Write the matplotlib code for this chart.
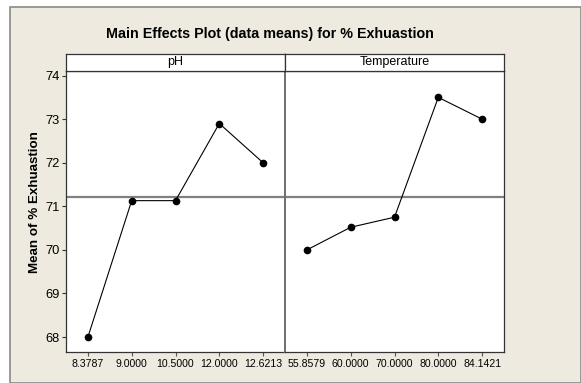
import matplotlib
matplotlib.use("Agg")
import matplotlib.pyplot as plt
from matplotlib.patches import Rectangle

plt.rcParams["font.family"] = ["Liberation Sans", "DejaVu Sans"]

ph_levels = ["8.3787", "9.0000", "10.5000", "12.0000", "12.6213"]
ph_means = [68.0, 71.13, 71.13, 72.9, 72.0]
temp_levels = ["55.8579", "60.0000", "70.0000", "80.0000", "84.1421"]
temp_means = [70.0, 70.52, 70.75, 73.5, 73.0]
grand_mean = 71.21
panel_names = ["pH", "Temperature"]
yticks = [68, 69, 70, 71, 72, 73, 74]

W, H = 581, 383
fig = plt.figure(figsize=(W / 100, H / 100), dpi=100)
fig.patch.set_facecolor("white")

# beige background panel with gray border
bg = Rectangle((10 / W, 0), 1 - 10 / W, 1 - 7 / H, transform=fig.transFigure,
               facecolor="#EEEAE0", edgecolor="#8a8a8a", linewidth=1.2, zorder=-10)
fig.patches.append(bg)

def fx(px):
    return px / W

def fy(py):
    return 1 - py / H

left, mid, right = 66, 285, 504
top, bottom, strip_top = 71, 352, 54

ax1 = fig.add_axes([fx(left), fy(bottom), fx(mid) - fx(left), fy(top) - fy(bottom)])
ax2 = fig.add_axes([fx(mid), fy(bottom), fx(right) - fx(mid), fy(top) - fy(bottom)])

data = [(ax1, ph_levels, ph_means), (ax2, temp_levels, temp_means)]
for ax, levels, means in data:
    ax.set_facecolor("white")
    xs = list(range(len(levels)))
    ax.axhline(grand_mean, color="#808080", linewidth=1.6, zorder=1)
    ax.plot(xs, means, color="black", linewidth=0.8, marker="o", markersize=4.5, zorder=3)
    ax.set_xlim(-0.5, len(levels) - 0.5)
    ax.set_ylim(67.657, 74.105)
    ax.set_xticks(xs)
    ax.set_xticklabels(levels, fontsize=7.6)
    ax.tick_params(axis="x", direction="out", length=3, width=0.8, color="#555555", pad=2)
    for s in ax.spines.values():
        s.set_color("#333333")
        s.set_linewidth(0.9)

ax1.set_yticks(yticks)
ax1.set_yticklabels([str(t) for t in yticks], fontsize=9.3)
ax1.tick_params(axis="y", direction="out", length=3, width=0.8, color="#333333", pad=1.5)
ax2.set_yticks([])
ax1.spines["right"].set_color("#707070")
ax1.spines["right"].set_linewidth(1.4)
ax2.spines["left"].set_color("#707070")
ax2.spines["left"].set_linewidth(1.4)

# strips
for i, (a, b) in enumerate([(left, mid), (mid, right)]):
    sax = fig.add_axes([fx(a), fy(top), fx(b) - fx(a), fy(strip_top) - fy(top)])
    sax.set_facecolor("white")
    sax.set_xticks([])
    sax.set_yticks([])
    for s in sax.spines.values():
        s.set_color("#333333")
        s.set_linewidth(0.9)
    sax.text(0.5, 0.5, panel_names[i], ha="center", va="center", fontsize=9,
             transform=sax.transAxes)

fig.text(fx(270), fy(34), "Main Effects Plot (data means) for % Exhuastion",
         ha="center", va="center", fontsize=10.3, fontweight="bold")
fig.text(fx(35), fy(202), "Mean of % Exhuastion", ha="center", va="center",
         rotation=90, fontsize=9.6, fontweight="bold")

fig.savefig("out.png", dpi=100, facecolor=fig.get_facecolor())
